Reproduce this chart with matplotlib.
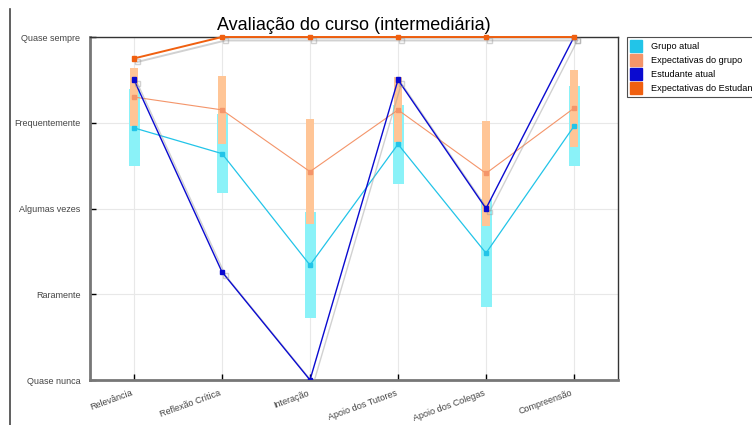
import matplotlib
matplotlib.use("Agg")
import matplotlib.pyplot as plt
import matplotlib.patheffects as pe
from matplotlib.patches import Patch
from matplotlib.lines import Line2D
import numpy as np

plt.rcParams["font.family"] = ["Liberation Sans", "DejaVu Sans"]

# dados
categorias = ["Relevância", "Reflexão Crítica", "Interação", "Apoio dos Tutores",
              "Apoio dos Colegas", "Compreensão"]
niveis = ["Quase nunca", "Raramente", "Algumas vezes", "Frequentemente", "Quase sempre"]

grupo_media = [3.94, 3.64, 2.34, 3.75, 2.48, 3.96]
grupo_desvio = [0.45, 0.46, 0.62, 0.46, 0.63, 0.47]
expect_grupo_media = [4.30, 4.15, 3.43, 4.15, 3.41, 4.17]
expect_grupo_desvio = [0.34, 0.40, 0.61, 0.38, 0.61, 0.45]
estudante = [4.50, 2.26, 1.00, 4.50, 3.00, 5.00]
expect_estudante = [4.75, 5.00, 5.00, 5.00, 5.00, 5.00]

c_ciano = "#22c4e8"
c_ciano_barra = "#8af2f8"
c_salmao = "#f4956a"
c_salmao_barra = "#ffc596"
c_azul = "#0a0ad0"
c_laranja = "#f06010"

fig = plt.figure(figsize=(7.52, 4.25), dpi=100)
ax = fig.add_axes([90 / 752, 1 - 380 / 425, 528 / 752, 343 / 425])

x = np.arange(len(categorias))
gm = np.array(grupo_media)
gd = np.array(grupo_desvio)
em = np.array(expect_grupo_media)
ed = np.array(expect_grupo_desvio)

ax.bar(x, 2 * gd, bottom=gm - gd, width=0.125, color=c_ciano_barra, zorder=2)
ax.bar(x, 2 * ed, bottom=em - ed, width=0.09, color=c_salmao_barra, zorder=3)

ax.plot(x, gm, color=c_ciano, lw=0.9, marker="s", ms=3.5, zorder=4)
ax.plot(x, em, color=c_salmao, lw=0.8, marker="s", ms=3.5, zorder=4)

sombra = [pe.SimpleLineShadow(offset=(2.5, -2.5), shadow_color="#999999", alpha=0.45),
          pe.Normal()]
ax.plot(x, estudante, color=c_azul, lw=1.0, marker="s", ms=3.5, zorder=5,
        path_effects=sombra)
ax.plot(x, expect_estudante, color=c_laranja, lw=1.4, marker="s", ms=3.5, zorder=6,
        path_effects=sombra, clip_on=False)

ax.set_xlim(-0.5, 5.5)
ax.set_ylim(1, 5)
ax.set_yticks([1, 2, 3, 4, 5])
ax.set_yticklabels(niveis)
ax.set_xticks(x)
ax.set_xticklabels(categorias, rotation=20, ha="right")
ax.tick_params(direction="in", length=4, labelsize=6.5, labelcolor="#444444",
               width=1)
ax.tick_params(axis="y", pad=7)
ax.tick_params(axis="x", pad=6)
ax.grid(True, color="#e8e8e8", lw=0.8, zorder=0)
ax.set_axisbelow(True)

for s in ["left", "bottom"]:
    ax.spines[s].set_color("#777777")
    ax.spines[s].set_linewidth(2)
for s in ["top", "right"]:
    ax.spines[s].set_color("#333333")
    ax.spines[s].set_linewidth(1)

fig.text(354 / 752, 1 - 25 / 425, "Avaliação do curso (intermediária)",
         ha="center", va="center", fontsize=13)

handles = [Patch(color=c_ciano), Patch(color=c_salmao),
           Patch(color=c_azul), Patch(color=c_laranja)]
nomes = ["Grupo atual", "Expectativas do grupo", "Estudante atual",
         "Expectativas do Estudante"]
leg = fig.legend(handles, nomes, loc="upper left", bbox_to_anchor=(627 / 752, 1 - 37 / 425),
                 fontsize=6.6, frameon=True, fancybox=False, handlelength=1.25,
                 handleheight=1.6, handletextpad=1.0, labelspacing=0.25,
                 borderpad=0.35, borderaxespad=0)
leg.get_frame().set_edgecolor("#222222")
leg.get_frame().set_linewidth(0.8)

fig.add_artist(Line2D([10 / 752, 10 / 752], [0, 1 - 9 / 425], color="#444444", lw=1.2))

fig.savefig("out.png", dpi=100)
